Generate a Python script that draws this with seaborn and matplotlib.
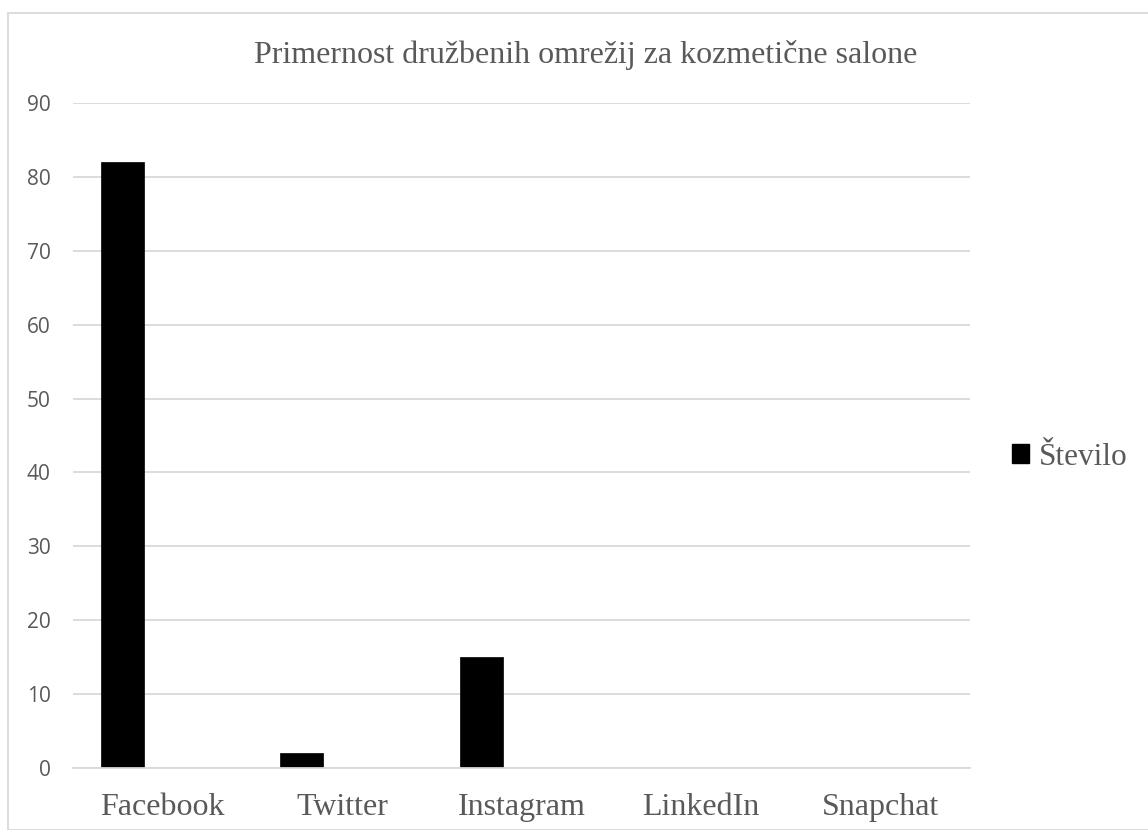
import matplotlib
matplotlib.use("Agg")
import matplotlib.pyplot as plt
import seaborn as sns
import pandas as pd
import numpy as np
from matplotlib.patches import Rectangle

categories = ["Facebook", "Twitter", "Instagram", "LinkedIn", "Snapchat"]
values = [82, 2, 15, 0, 0]
series_name = "Število"
title = "Primernost družbenih omrežij za kozmetične salone"
yticks = [0, 10, 20, 30, 40, 50, 60, 70, 80, 90]

sns.set_theme(style="white")
plt.rcParams['font.family'] = ['Liberation Serif', 'DejaVu Serif']

fig = plt.figure(figsize=(11.48, 8.30), dpi=100)
ax = fig.add_axes([73/1148, 1-768/830, (970-73)/1148, (768-103)/830])

# Clustered-bar style: bar sits left of category centre
offset = -0.225
df = pd.DataFrame({"pos": np.arange(len(categories)) + offset, "val": values, "s": series_name})
sns.barplot(data=df, x="pos", y="val", hue="s", native_scale=True, palette=["#000000"],
            width=0.24, ax=ax, legend=False, edgecolor="#000000", linewidth=0.5)

ax.set_xlim(-0.5, len(categories) - 0.5)
ax.set_ylim(0, 90)
ax.set_yticks(yticks)
ax.set_yticklabels([str(t) for t in yticks], fontfamily="Open Sans", fontsize=15, color="#595959")
ax.set_xticks(np.arange(len(categories)))
ax.set_xticklabels(categories, fontsize=23, color="#595959")
ax.tick_params(axis="y", length=0, pad=16)
ax.tick_params(axis="x", length=0, pad=18)
ax.yaxis.grid(True, color="#d9d9d9", linewidth=1.3)
ax.set_axisbelow(True)
for sp in ["top", "right", "left"]:
    ax.spines[sp].set_visible(False)
ax.spines["bottom"].set_color("#d9d9d9")
ax.spines["bottom"].set_linewidth(1.3)
ax.set_xlabel("")
ax.set_ylabel("")

fig.text(586/1148, 1 - 63/830, title, ha="center", va="baseline", fontsize=23, color="#595959")

handle = Rectangle((0, 0), 1, 1, facecolor="#000000", edgecolor="#000000")
fig.legend([handle], [series_name], loc="center left", bbox_to_anchor=(1012/1148, 1 - 457/830),
           frameon=False, fontsize=22.5, labelcolor="#595959", handlelength=0.55, handleheight=0.55,
           handletextpad=0.3, borderaxespad=0, borderpad=0)

border = Rectangle((8/1148, 0), 1.2, 1 - 13/830, transform=fig.transFigure, fill=False,
                   edgecolor="#d9d9d9", linewidth=1.3)
fig.patches.append(border)

fig.savefig("out.png", dpi=100)
